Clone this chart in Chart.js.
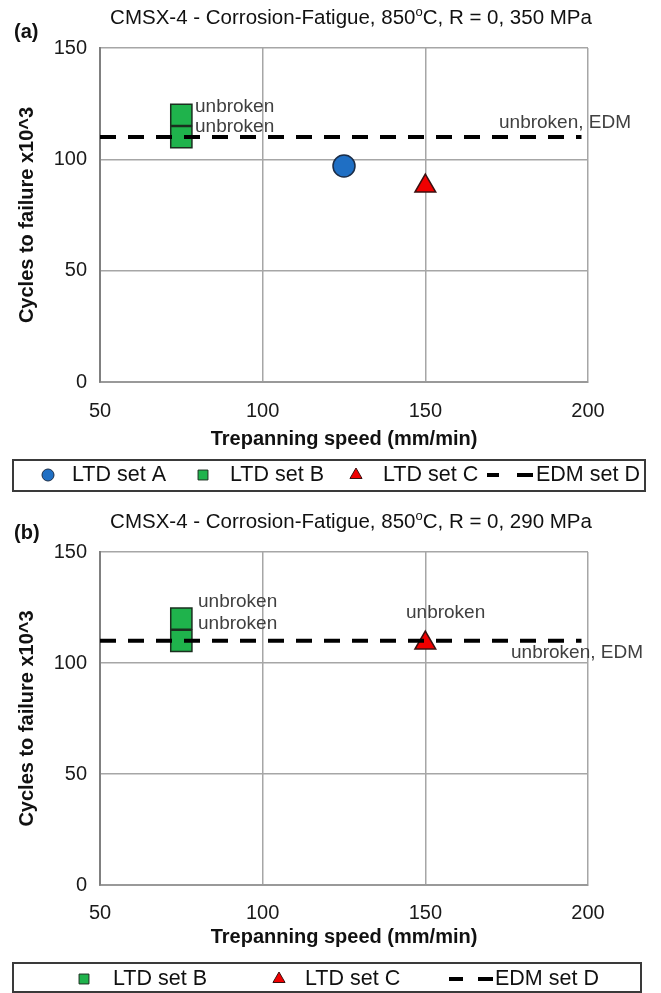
<!DOCTYPE html>
<html>
<head>
<meta charset="utf-8">
<title>CMSX-4 corrosion-fatigue</title>
<script src="https://cdn.jsdelivr.net/npm/chart.js@4.4.1/dist/chart.umd.min.js"></script>
<style>
  body { margin: 0; background: #fff; width: 661px; height: 993px; overflow: hidden; position: relative; }
  .panel { position: absolute; left: 0; width: 661px; }
  #panelA { top: 0; height: 495px; }
  #panelB { top: 495px; height: 498px; }
</style>
</head>
<body>
<div class="panel" id="panelA"><canvas id="chartA" width="661" height="495"></canvas></div>
<div class="panel" id="panelB"><canvas id="chartB" width="661" height="498"></canvas></div>

<script>
// ---- Data ----
const xTicks = [50, 100, 150, 200];          // trepanning speed (mm/min)
const yTicks = [0, 50, 100, 150];            // cycles to failure x10^3

// panel (a) - 350 MPa
const setA_speed_a = [125];
const setA_cycles_a = [97];
const setB_speed_a = [75, 75];
const setB_cycles_a = [120, 110];
const setC_speed_a = [150];
const setC_cycles_a = [88];
const edm_speed_a = [50, 198];
const edm_cycles_a = [110, 110];

// panel (b) - 290 MPa
const setB_speed_b = [75, 75];
const setB_cycles_b = [120, 110];
const setC_speed_b = [150];
const setC_cycles_b = [109];
const edm_speed_b = [50, 198];
const edm_cycles_b = [110, 110];

const titleA = ['CMSX-4 - Corrosion-Fatigue, 850', 'o', 'C, R = 0, 350 MPa'];
const titleB = ['CMSX-4 - Corrosion-Fatigue, 850', 'o', 'C, R = 0, 290 MPa'];

// ---- Styles ----
const FONT = '"Liberation Sans", Arial, Helvetica, sans-serif';
const GRID = '#a6a6a6';

const styleA = { pointStyle: 'circle', radius: 11, backgroundColor: '#1f6fc4', borderColor: '#1b2d47' };
const styleB = { pointStyle: 'rect', radius: 15, backgroundColor: '#1fb34c', borderColor: '#1b2f1f' };
const styleC = { pointStyle: 'triangle', radius: 12, backgroundColor: '#f00000', borderColor: '#3a1010' };

const zip = (xs, ys) => xs.map((x, i) => ({ x, y: ys[i] }));

function markerSet(label, xs, ys, st) {
  return {
    label,
    data: zip(xs, ys),
    pointStyle: st.pointStyle,
    pointRadius: st.radius,
    backgroundColor: st.backgroundColor,
    borderColor: st.borderColor,
    borderWidth: 1.5,
    showLine: false
  };
}

function edmLine(xs, ys) {
  return {
    label: 'EDM set D',
    data: zip(xs, ys),
    showLine: true,
    borderColor: '#000',
    borderWidth: 4,
    borderDash: [16, 12],
    pointRadius: 0,
    fill: false
  };
}

// draw the title with a superscript "o"
function drawTitle(ctx, parts, cx, cy) {
  const big = '20.5px ' + FONT, small = '13px ' + FONT;
  ctx.font = big;
  const w0 = ctx.measureText(parts[0]).width;
  const w2 = ctx.measureText(parts[2]).width;
  ctx.font = small;
  const w1 = ctx.measureText(parts[1]).width;
  let x = cx - (w0 + w1 + w2) / 2;
  ctx.fillStyle = '#111';
  ctx.textBaseline = 'middle';
  ctx.textAlign = 'left';
  ctx.font = big;
  ctx.fillText(parts[0], x, cy);
  x += w0;
  ctx.font = small;
  ctx.fillText(parts[1], x, cy - 6);
  x += w1;
  ctx.font = big;
  ctx.fillText(parts[2], x, cy);
}

function legendMark(ctx, st, x, y, r) {
  const opts = { pointStyle: st.pointStyle, radius: r, borderWidth: 1 };
  ctx.fillStyle = st.backgroundColor;
  ctx.strokeStyle = st.borderColor;
  ctx.lineWidth = 1;
  Chart.helpers.drawPoint(ctx, opts, x, y);
}

const decorPlugin = {
  id: 'decor',
  afterDraw(chart, args, o) {
    const ctx = chart.ctx;
    ctx.save();
    drawTitle(ctx, o.title, 351, o.titleY);

    ctx.font = 'bold 20px ' + FONT;
    ctx.fillStyle = '#111';
    ctx.textAlign = 'left';
    ctx.textBaseline = 'middle';
    ctx.fillText(o.letter, 14, o.letterY);

    ctx.font = '19px ' + FONT;
    ctx.fillStyle = '#404040';
    o.notes.forEach(n => ctx.fillText(n.text, n.x, n.y));

    // legend box
    const b = o.legend.box;
    ctx.strokeStyle = '#3a3a3a';
    ctx.lineWidth = 2;
    ctx.strokeRect(b.x, b.y, b.w, b.h);
    ctx.font = '21.5px ' + FONT;
    o.legend.items.forEach(it => {
      if (it.style) {
        legendMark(ctx, it.style, it.mx, b.cy, it.r);
      } else {
        ctx.strokeStyle = '#000';
        ctx.lineWidth = 4;
        it.dashes.forEach(d => {
          ctx.beginPath();
          ctx.moveTo(d[0], b.cy);
          ctx.lineTo(d[1], b.cy);
          ctx.stroke();
        });
      }
      ctx.fillStyle = '#111';
      ctx.textAlign = 'left';
      ctx.fillText(it.label, it.tx, b.cy);
    });
    ctx.restore();
  }
};

function buildPanel(id, p) {
  const tickFont = { family: FONT, size: 20 };
  return new Chart(document.getElementById(id), {
    type: 'scatter',
    data: { datasets: p.datasets },
    options: {
      responsive: false,
      animation: false,
      events: [],
      layout: { padding: { top: p.top, left: 0, right: 73, bottom: p.bottom } },
      scales: {
        x: {
          type: 'linear',
          min: xTicks[0],
          max: xTicks[xTicks.length - 1],
          ticks: { stepSize: xTicks[1] - xTicks[0], padding: p.xTickPad, font: tickFont, color: '#1a1a1a' },
          grid: { color: GRID, lineWidth: 1.5, drawTicks: false },
          border: { color: '#999', width: 2 },
          title: {
            display: true,
            text: 'Trepanning speed (mm/min)',
            font: { family: FONT, size: 20, weight: 'bold' },
            color: '#111',
            padding: { top: 0, bottom: p.xTitlePad }
          },
          afterFit: s => { s.height = 70; }
        },
        y: {
          type: 'linear',
          min: yTicks[0],
          max: yTicks[yTicks.length - 1],
          ticks: { stepSize: yTicks[1] - yTicks[0], padding: 13, font: tickFont, color: '#1a1a1a' },
          grid: { color: GRID, lineWidth: 1.5, drawTicks: false },
          border: { color: '#808080', width: 2 },
          title: {
            display: true,
            text: 'Cycles to failure x10^3',
            font: { family: FONT, size: 20, weight: 'bold' },
            color: '#111',
            padding: { top: 15, bottom: 0 }
          },
          afterFit: s => { s.width = 100; }
        }
      },
      plugins: {
        legend: { display: false },
        tooltip: { enabled: false },
        decor: p.decor
      }
    },
    plugins: [decorPlugin]
  });
}

// panel (a)
buildPanel('chartA', {
  top: 48, bottom: 43, xTickPad: 17, xTitlePad: 1,
  datasets: [
    edmLine(edm_speed_a, edm_cycles_a),
    markerSet('LTD set A', setA_speed_a, setA_cycles_a, styleA),
    markerSet('LTD set B', setB_speed_a, setB_cycles_a, styleB),
    markerSet('LTD set C', setC_speed_a, setC_cycles_a, styleC)
  ],
  decor: {
    title: titleA, titleY: 18, letter: '(a)', letterY: 32,
    notes: [
      { text: 'unbroken', x: 195, y: 107 },
      { text: 'unbroken', x: 195, y: 127 },
      { text: 'unbroken, EDM', x: 499, y: 123 }
    ],
    legend: {
      box: { x: 13, y: 460, w: 632, h: 31, cy: 475 },
      items: [
        { style: styleA, r: 6, mx: 48, label: 'LTD set A', tx: 72 },
        { style: styleB, r: 7, mx: 203, label: 'LTD set B', tx: 230 },
        { style: styleC, r: 7, mx: 356, label: 'LTD set C', tx: 383 },
        { dashes: [[487, 499], [517, 533]], label: 'EDM set D', tx: 536 }
      ]
    }
  }
});

// panel (b)
buildPanel('chartB', {
  top: 57, bottom: 38, xTickPad: 16, xTitlePad: 6,
  datasets: [
    edmLine(edm_speed_b, edm_cycles_b),
    markerSet('LTD set B', setB_speed_b, setB_cycles_b, styleB),
    markerSet('LTD set C', setC_speed_b, setC_cycles_b, styleC)
  ],
  decor: {
    title: titleB, titleY: 27, letter: '(b)', letterY: 38,
    notes: [
      { text: 'unbroken', x: 198, y: 107 },
      { text: 'unbroken', x: 198, y: 129 },
      { text: 'unbroken', x: 406, y: 118 },
      { text: 'unbroken, EDM', x: 511, y: 158 }
    ],
    legend: {
      box: { x: 13, y: 468, w: 628, h: 29, cy: 484 },
      items: [
        { style: styleB, r: 7, mx: 84, label: 'LTD set B', tx: 113 },
        { style: styleC, r: 7, mx: 279, label: 'LTD set C', tx: 305 },
        { dashes: [[449, 463], [478, 493]], label: 'EDM set D', tx: 495 }
      ]
    }
  }
});
</script>
</body>
</html>
